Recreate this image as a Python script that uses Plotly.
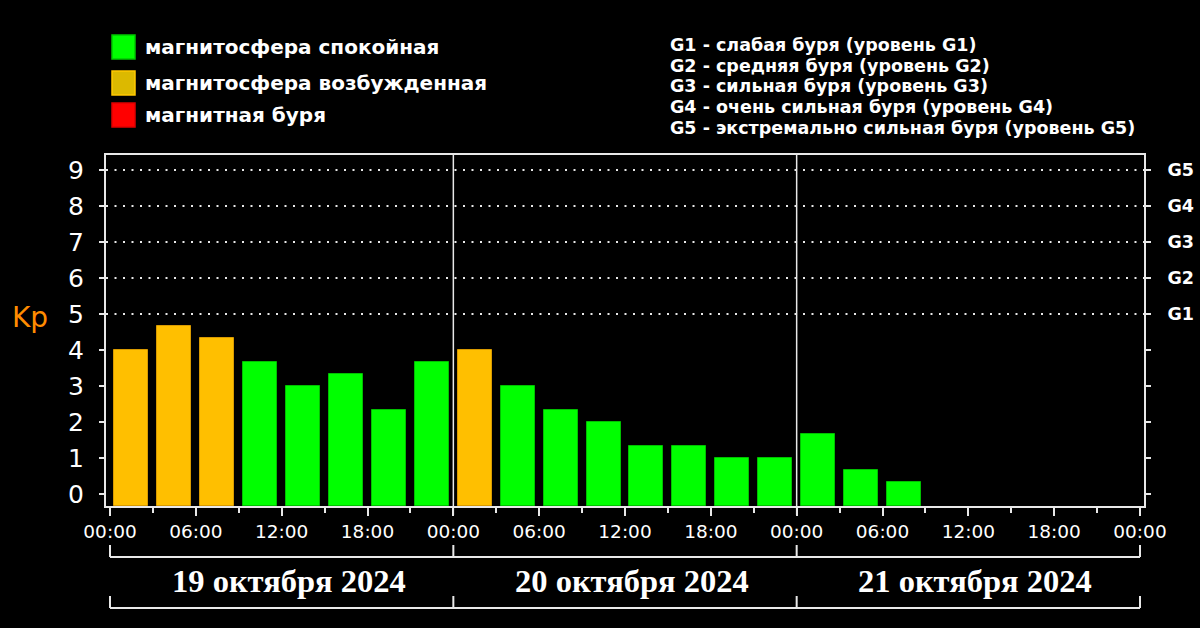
import plotly.graph_objects as go
import pandas as pd

# ---------------- data ----------------
start_date = "2024-10-19"
day_starts = ["2024-10-19", "2024-10-20", "2024-10-21", "2024-10-22"]
day_labels = ["19 октября 2024", "20 октября 2024", "21 октября 2024"]
kp_19 = [4.0, 4.67, 4.33, 3.67, 3.0, 3.33, 2.33, 3.67]
kp_20 = [4.0, 3.0, 2.33, 2.0, 1.33, 1.33, 1.0, 1.0]
kp_21 = [1.67, 0.67, 0.33]
slot_hours = 3
kp_ticks = [0, 1, 2, 3, 4, 5, 6, 7, 8, 9]
g_levels = [5, 6, 7, 8, 9]
g_labels = ["G1", "G2", "G3", "G4", "G5"]
g_desc = [
    "G1 - слабая буря (уровень G1)",
    "G2 - средняя буря (уровень G2)",
    "G3 - сильная буря (уровень G3)",
    "G4 - очень сильная буря (уровень G4)",
    "G5 - экстремально сильная буря (уровень G5)",
]
legend_labels = ["магнитосфера спокойная", "магнитосфера возбужденная", "магнитная буря"]
legend_fill = ["#00ff00", "#dcb900", "#ff0000"]
legend_edge = ["#00c800", "#ffc800", "#e00000"]
thresholds = [4, 5]  # excited >= 4, storm >= 5

# ---------------- build ----------------
kp = kp_19 + kp_20 + kp_21
t0 = pd.Timestamp(start_date)
times = [t0 + pd.Timedelta(hours=slot_hours * i + slot_hours / 2) for i in range(len(kp))]

fill_cols, edge_cols = [], []
for v in kp:
    if v >= thresholds[1]:
        fill_cols.append("#ff0000"); edge_cols.append("#c00000")
    elif v >= thresholds[0]:
        fill_cols.append("#ffbf00"); edge_cols.append("#d99a00")
    else:
        fill_cols.append("#00ff00"); edge_cols.append("#00c000")

y_floor = -0.33
y_top = 9.42

W, H = 1200, 628
ML, MR, MT, MB = 106, 56, 155, 122
PW, PH = W - ML - MR, H - MT - MB


def px(xp):
    return (xp - ML) / PW


def py(yp):
    return (H - MB - yp) / PH


fig = go.Figure()
fig.add_trace(go.Bar(
    x=times, y=[v - y_floor for v in kp], base=y_floor,
    width=2.38 * 3600 * 1000,
    marker=dict(color=fill_cols, line=dict(color=edge_cols, width=1)),
    customdata=kp, hovertemplate="%{x}<br>Kp=%{customdata}<extra></extra>",
    showlegend=False,
))
fig.add_trace(go.Scatter(x=[times[0]], y=[None], yaxis="y2", showlegend=False, hoverinfo="skip"))

shapes = []
# dotted grid for G levels
for g in g_levels:
    shapes.append(dict(type="line", xref="paper", yref="y", x0=0, x1=1, y0=g, y1=g,
                       line=dict(color="#e8e8e8", width=2, dash="2px,6.5px"), layer="above"))
# day separators
for d in day_starts[1:-1]:
    shapes.append(dict(type="line", xref="x", yref="paper", x0=d, x1=d, y0=0, y1=1,
                       line=dict(color="#e8e8e8", width=1.5)))
# brackets under axis
for ytop, ybot in [(545, 557), (596, 608)]:
    shapes.append(dict(type="line", xref="x", yref="paper", x0=day_starts[0], x1=day_starts[-1],
                       y0=py(ybot), y1=py(ybot), line=dict(color="#e8e8e8", width=2)))
    for d in day_starts:
        shapes.append(dict(type="line", xref="x", yref="paper", x0=d, x1=d,
                           y0=py(ytop), y1=py(ybot), line=dict(color="#e8e8e8", width=2)))
# day boundary longer ticks
for d in day_starts:
    shapes.append(dict(type="line", xref="x", yref="paper", x0=d, x1=d,
                       y0=py(506), y1=py(515), line=dict(color="#e8e8e8", width=1.5)))

# legend squares
row_centers = [47, 83, 115]
annotations = []
for c, f, e, lab in zip(row_centers, legend_fill, legend_edge, legend_labels):
    shapes.append(dict(type="rect", xref="paper", yref="paper",
                       x0=px(112), x1=px(135), y0=py(c - 12), y1=py(c + 12),
                       fillcolor=f, line=dict(color=e, width=1.5)))
    annotations.append(dict(xref="paper", yref="paper", x=px(143), y=py(c), text=lab,
                            xanchor="left", yanchor="middle", showarrow=False,
                            font=dict(family="DejaVu Sans", size=20, color="white", weight="bold")))

for i, line in enumerate(g_desc):
    annotations.append(dict(xref="paper", yref="paper", x=px(668), y=py(45 + 20.7 * i), text=line,
                            xanchor="left", yanchor="middle", align="left", showarrow=False,
                            font=dict(family="DejaVu Sans", size=17.5, color="white", weight="bold")))

# Kp axis title
annotations.append(dict(xref="paper", yref="y", x=px(30), y=4.9, text="Kp", showarrow=False,
                        xanchor="center", yanchor="middle",
                        font=dict(family="DejaVu Sans", size=28, color="#ff8c00")))

# date labels
for d, lab in zip(day_starts[:-1], day_labels):
    annotations.append(dict(xref="x", yref="paper", x=pd.Timestamp(d) + pd.Timedelta(hours=12),
                            y=py(581), text=lab, showarrow=False, xshift=7,
                            xanchor="center", yanchor="middle",
                            font=dict(family="Liberation Serif", size=32.5, color="white", weight="bold")))

x_pad = pd.Timedelta(hours=0.28)
fig.update_layout(
    width=W, height=H,
    margin=dict(l=ML, r=MR, t=MT, b=MB, pad=0, autoexpand=False),
    paper_bgcolor="black", plot_bgcolor="black",
    bargap=0, showlegend=False,
    shapes=shapes, annotations=annotations,
    xaxis=dict(
        type="date", automargin=False,
        range=[t0 - x_pad, pd.Timestamp(day_starts[-1]) + x_pad],
        tick0=t0, dtick=6 * 3600 * 1000, tickformat="%H:%M",
        ticks="outside", ticklen=8, tickwidth=1.5, tickcolor="#e8e8e8",
        minor=dict(dtick=3 * 3600 * 1000, tick0=t0, ticks="outside", ticklen=5,
                   tickwidth=1.5, tickcolor="#e8e8e8", showgrid=False),
        showgrid=False, zeroline=False,
        showline=True, linecolor="#e8e8e8", linewidth=2, mirror=True,
        tickfont=dict(family="DejaVu Sans", size=18.5, color="white"),
        ticklabelstandoff=0,
        fixedrange=True,
    ),
    yaxis=dict(
        range=[y_floor, y_top], tickvals=kp_ticks, automargin=False,
        ticks="outside", ticklen=5, tickwidth=1.5, tickcolor="#e8e8e8",
        showgrid=False, zeroline=False,
        showline=True, linecolor="#e8e8e8", linewidth=2,
        tickfont=dict(family="DejaVu Sans", size=25, color="white"),
        ticklabelstandoff=10,
    ),
    yaxis2=dict(
        range=[y_floor, y_top], overlaying="y", side="right", automargin=False,
        tickvals=kp_ticks,
        ticktext=[g_labels[g_levels.index(v)] if v in g_levels else "" for v in kp_ticks],
        ticks="outside", ticklen=5, tickwidth=1.5, tickcolor="#e8e8e8",
        showgrid=False, zeroline=False,
        showline=True, linecolor="#e8e8e8", linewidth=2,
        tickfont=dict(family="DejaVu Sans", size=17.5, color="white", weight="bold"),
        ticklabelstandoff=13,
    ),
)

fig.write_html("out.html", config={"displayModeBar": False},
               post_script="document.body.style.margin='0';document.body.style.background='black';")
